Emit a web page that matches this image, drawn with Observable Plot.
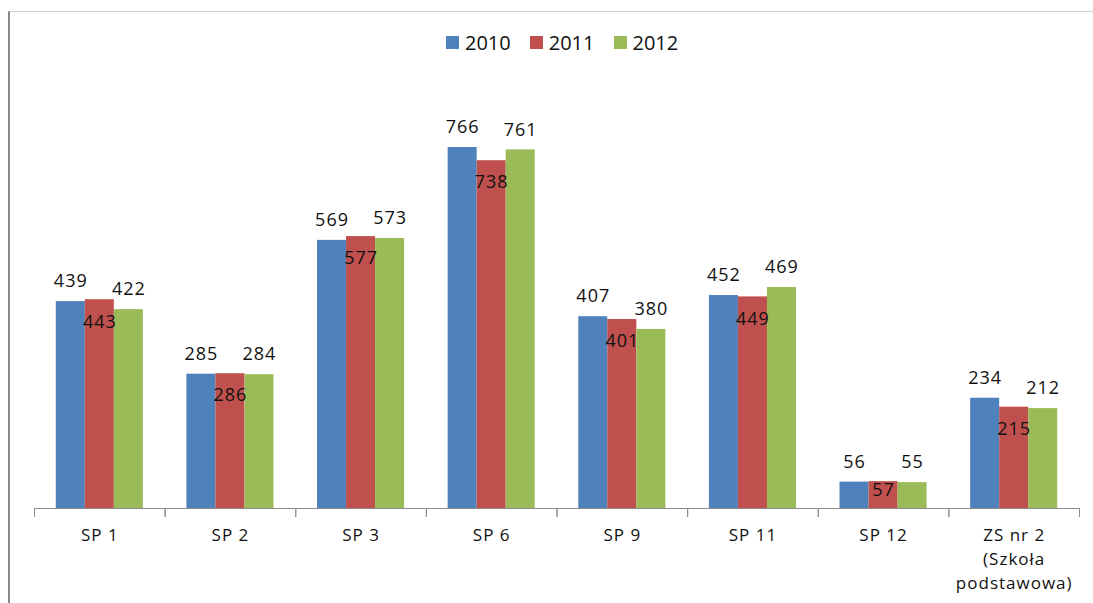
<!DOCTYPE html>
<html>
<head>
<meta charset="utf-8">
<script src="https://cdn.jsdelivr.net/npm/d3@7"></script>
<script src="https://cdn.jsdelivr.net/npm/@observablehq/plot@0.6"></script>
<style>
  html, body { margin: 0; padding: 0; background: #fff; }
  body { width: 1093px; height: 603px; position: relative; overflow: hidden; font-family: "Open Sans", Lato, sans-serif; }
  #border { position: absolute; left: 8px; top: 11px; width: 1085px; height: 592px;
            border-top: 1px solid #d0d0d0; border-left: 2px solid #888; box-sizing: border-box; pointer-events: none; }
  #legend { position: absolute; left: 446px; top: 26px; height: 24px; }
  #legend [class*="-swatch"] > svg { margin-right: 6px !important; }
  #legend [class*="-swatch"] { margin-right: 19px !important; }
  #chart { position: absolute; left: 0; top: 60px; }
  #chart svg text { letter-spacing: 1px; font-weight: 400; }
</style>
</head>
<body>
<div id="border"></div>
<div id="legend"></div>
<div id="chart"></div>
<script>
const categories = ["SP 1", "SP 2", "SP 3", "SP 6", "SP 9", "SP 11", "SP 12", "ZS nr 2 (Szkoła podstawowa)"];
const tickLabels = ["SP 1", "SP 2", "SP 3", "SP 6", "SP 9", "SP 11", "SP 12", "ZS nr 2\n(Szkoła\npodstawowa)"];
const years = ["2010", "2011", "2012"];
const v2010 = [439, 285, 569, 766, 407, 452, 56, 234];
const v2011 = [443, 286, 577, 738, 401, 449, 57, 215];
const v2012 = [422, 284, 573, 761, 380, 469, 55, 212];
const colors = ["#4F81BD", "#C0504D", "#9BBB59"];

const series = [v2010, v2011, v2012];
const data = [];
categories.forEach((c, i) => {
  years.forEach((y, j) => data.push({category: c, year: y, value: series[j][i]}));
});
const labelOf = new Map(categories.map((c, i) => [c, tickLabels[i]]));

const font = "'Open Sans', Lato, sans-serif";
const inside = data.filter(d => d.year === "2011");

const chart = Plot.plot({
  width: 1093,
  height: 543,
  marginLeft: 34,
  marginRight: 14,
  marginTop: 71,
  marginBottom: 87,
  style: {fontFamily: font, fontSize: "17px", color: "#000", background: "transparent"},
  fx: {domain: categories, padding: 0, round: false, label: null},
  x: {domain: years, paddingInner: 0, paddingOuter: 0.75, round: false, axis: null},
  y: {domain: [0, 800], insetBottom: 8, axis: null},
  color: {domain: years, range: colors},
  marks: [
    Plot.barY(data, {fx: "category", x: "year", y: "value", fill: "year"}),
    Plot.ruleY([0], {stroke: "#8c8c8c", strokeWidth: 1}),
    Plot.frame({anchor: "left", stroke: "#8c8c8c", insetTop: 377}),
    Plot.frame({anchor: "right", stroke: "#8c8c8c", insetTop: 377}),
    Plot.text(data.filter(d => d.year !== "2011"), {fx: "category", x: "year", y: "value", text: d => String(d.value), dy: -20, fontSize: 18, fill: "#111"}),
    Plot.text(inside.filter(d => d.value >= 100), {fx: "category", x: "year", y: "value", text: d => String(d.value), dy: 22, fontSize: 18, fill: "#111"}),
    Plot.text(inside.filter(d => d.value < 100), {fx: "category", x: "year", y: "value", text: d => String(d.value), dy: 9, fontSize: 18, fill: "#111"}),
    Plot.axisFx({anchor: "bottom", tickSize: 0, tickPadding: 8, fontSize: 17, lineHeight: 1.4, label: null, tickFormat: d => labelOf.get(d), fill: "#111"})
  ]
});
document.getElementById("chart").appendChild(chart);

const legend = Plot.legend({
  color: {domain: years, range: colors},
  swatchSize: 13,
  style: {fontFamily: font, fontSize: "20px", color: "#111"}
});
document.getElementById("legend").appendChild(legend);
</script>
</body>
</html>
